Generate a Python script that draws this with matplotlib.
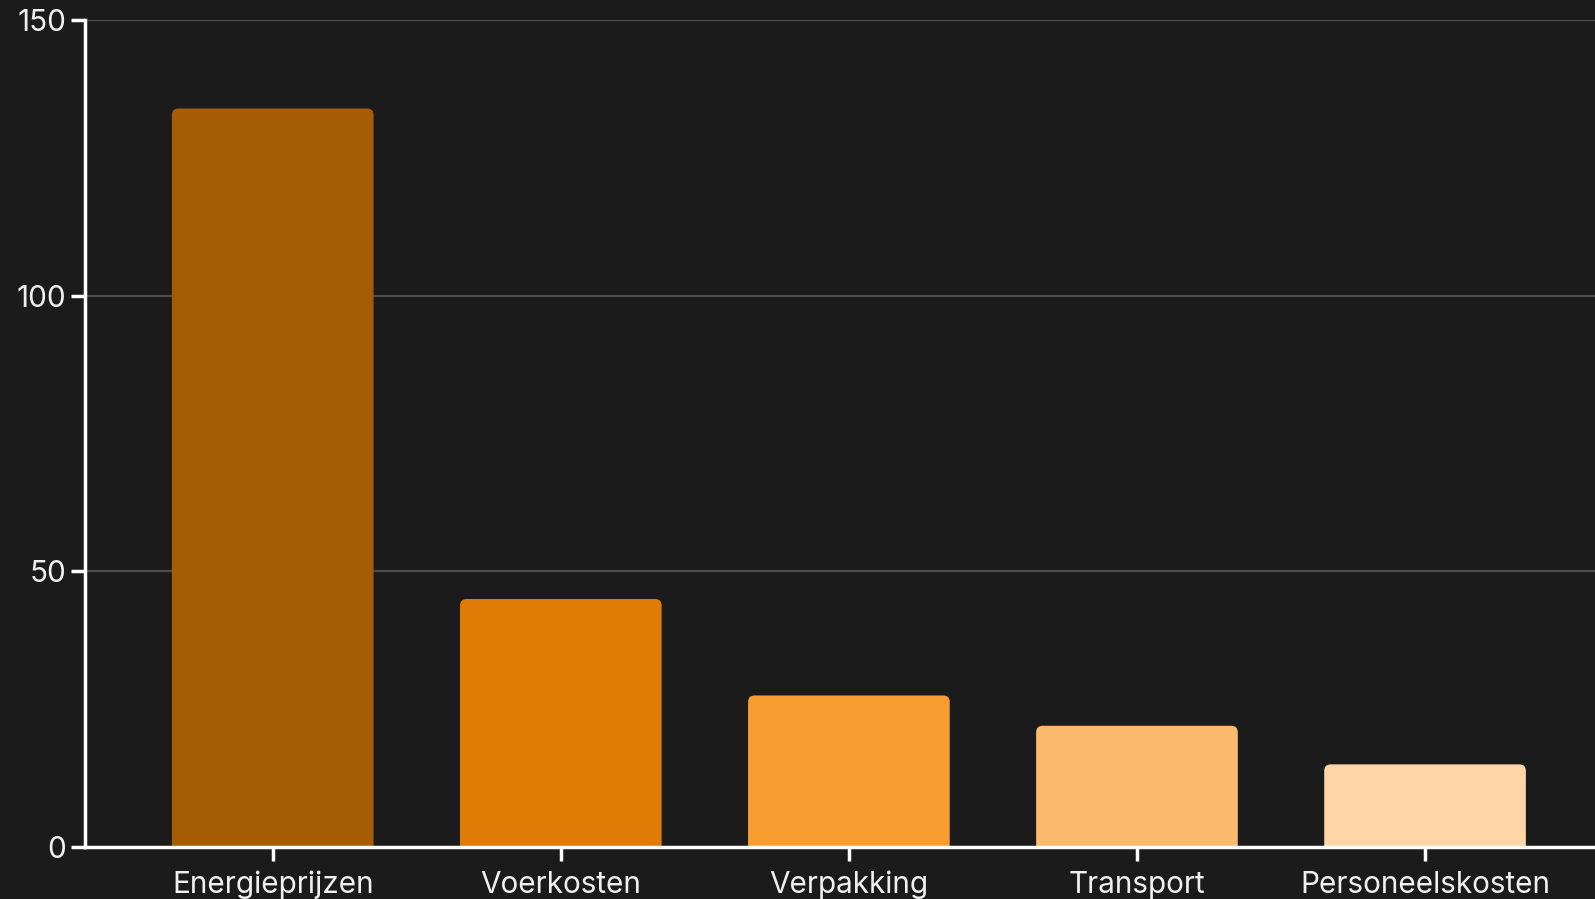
import matplotlib
matplotlib.use("Agg")
import matplotlib.pyplot as plt
from matplotlib.patches import PathPatch
from matplotlib.path import Path

categories = ["Energieprijzen", "Voerkosten", "Verpakking", "Transport", "Personeelskosten"]
values = [134, 45, 27.5, 22, 15]
colors = ["#A65B05", "#E07B06", "#F89D30", "#FBBA6E", "#FDD5A6"]
yticks = [0, 50, 100, 150]

plt.rcParams['font.family'] = ['Inter', 'DejaVu Sans']
bg = "#1B1B1B"
fig = plt.figure(figsize=(15.95, 8.99), dpi=100, facecolor=bg)
ax = fig.add_axes([0.0536, 0.0578, 1 - 0.0536, 0.9774 - 0.0578], facecolor=bg)

x = list(range(len(categories)))
width = 0.7
ax.set_xlim(-0.65, 4.59)
ax.set_ylim(0, 150)

# pixels per data unit
ax_w_px = (1 - 0.0536) * 1595
ax_h_px = (0.9774 - 0.0578) * 899
px_x = ax_w_px / (4.59 + 0.65)
px_y = ax_h_px / 150
r_px = 6.5
rx = r_px / px_x
ry = r_px / px_y

bars = ax.bar(x, values, width=width, color=colors, alpha=0)
for b, c in zip(bars, colors):
    x0, w, h = b.get_x(), b.get_width(), b.get_height()
    x1 = x0 + w
    verts = [(x0, 0), (x0, h - ry), (x0, h), (x0 + rx, h), (x1 - rx, h),
             (x1, h), (x1, h - ry), (x1, 0), (x0, 0)]
    codes = [Path.MOVETO, Path.LINETO, Path.CURVE3, Path.CURVE3, Path.LINETO,
             Path.CURVE3, Path.CURVE3, Path.LINETO, Path.CLOSEPOLY]
    ax.add_patch(PathPatch(Path(verts, codes), facecolor=c, edgecolor='none', zorder=2))

for yv in yticks[1:]:
    ax.axhline(yv, color="#4d4d4d", lw=1.6, zorder=1)

for s in ["top", "right"]:
    ax.spines[s].set_visible(False)
for s in ["left", "bottom"]:
    ax.spines[s].set_color("white")
    ax.spines[s].set_linewidth(2.5)
ax.spines["bottom"].set_zorder(3)

ax.set_xticks(x)
ax.set_xticklabels(categories)
ax.set_yticks(yticks)
ax.set_yticklabels([str(v) for v in yticks])
ax.tick_params(axis='both', colors='white', labelcolor='#f0f0f0', labelsize=21.4,
               length=10, width=2.5)
ax.tick_params(axis='x', pad=7)
ax.tick_params(axis='y', pad=4)

fig.savefig("out.png", dpi=100, facecolor=bg)
